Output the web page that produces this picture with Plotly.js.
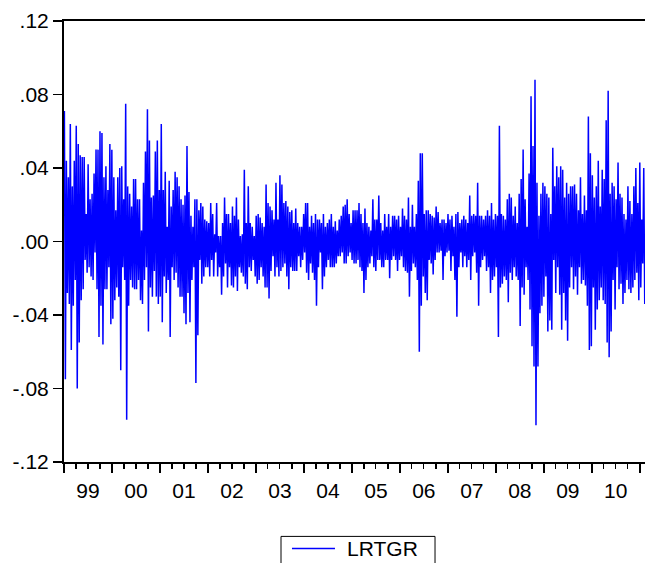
<!DOCTYPE html>
<html>
<head>
<meta charset="utf-8">
<script src="https://cdn.plot.ly/plotly-3.0.1.min.js"></script>
<style>html,body{margin:0;padding:0;background:#fff;}</style>
</head>
<body>
<div id="chart" style="width:645px;height:563px;"></div>
<script>
// LRTGR log returns (alternating local highs/lows, ~weekly spacing)
const seriesName = "LRTGR";
const startDate = "1999-01-04";
const endDate = "2011-02-08";

const lrtgr1999 = [.071,-.075,.044,-.028,.035,-.034,.064,-.059,.030,-.035,.044,-.021,.063,-.080,.053,-.055,.047,-.032,.046,-.026,.046,-.010,.015,-.017,.042,-.014,.023,-.019,.026,-.021,.037,-.006,.050,-.026,.050,-.052,.060,-.035,.059,-.056,.035,-.026,.041,-.026,.028,-.014,.053,-.045,.050,-.042,.035,-.032,.017,-.025,.035,-.030,.040,-.070,.041,-.014,.023,-.021,.075,-.097,.030,-.035,.026,-.021,.019,-.025,.034,-.026];
const lrtgr2000 = [.034,-.026,.023,-.021,.023,-.032,.006,-.034,.032,-.021,.049,-.014,.072,-.049,.055,-.025,.024,-.030,.025,-.016,.049,-.030,.055,-.034,.028,-.030,.064,-.044,.028,-.019,.038,-.028,.008,-.021,.033,-.052,.019,-.014,.028,-.021,.038,-.017,.035,-.025,.030,-.030,.023,-.030,.020,-.039,.025,-.045,.052,-.028,.027,-.044,.014,-.021,.008,-.014,.023,-.077,.023,-.051,.017,-.010,.021,-.023,.019,-.019,.012,-.014,.011,-.014];
const lrtgr2002 = [.010,-.019,.021,-.010,.015,-.019,.004,-.006,.021,-.019,.003,-.014,.003,-.029,.010,-.019,.024,-.012,.015,-.025,.015,-.014,.010,-.024,.019,-.025,.014,-.019,.024,-.027,.012,-.014,.003,-.017,.004,-.019,.039,-.023,.010,-.026,.030,-.014,.010,-.016,.008,-.010,.003,-.019,.014,-.023,.015,-.021,.013,-.014,.010,-.019,.008,-.025,.031,-.025,.021,-.031,.019,-.016,.017,-.008,.012,-.019,.032,-.014,.012,-.019,.036,-.016];
const lrtgr2004 = [.031,-.014,.021,-.012,.022,-.019,.019,-.026,.016,-.014,.017,-.016,.010,-.016,.018,-.016,.010,-.008,.008,-.014,.008,-.010,.015,-.006,.021,-.017,.021,-.021,.008,-.012,.014,-.017,.010,-.021,.015,-.035,.012,-.014,.012,-.006,.010,-.026,.015,-.019,.008,-.014,.010,-.010,.012,-.014,.015,-.014,.008,-.014,.011,-.012,.006,-.008,.012,-.008,.014,-.006,.019,-.012,.020,-.012,.023,-.008,.015,-.006,.010,-.010,.017,-.012];
const lrtgr2005 = [.017,-.012,.017,-.010,.021,-.014,.015,-.016,.010,-.028,.018,-.021,.010,-.014,.008,-.012,.006,-.008,.023,-.014,.012,-.016,.012,-.010,.025,-.010,.010,-.014,.006,-.014,.015,-.010,.008,-.010,.015,-.020,.008,-.010,.014,-.008,.014,-.010,.012,-.016,.014,-.010,.008,-.008,.018,-.014,.014,-.016,.012,-.017,.024,-.030,.008,-.016,.020,-.012,.008,-.014,.015,-.021,.033,-.060,.048,-.035,.048,-.019,.015,-.028,.017,-.032];
const lrtgr2006 = [.017,-.010,.015,-.012,.014,-.018,.013,-.010,.019,-.006,.016,-.006,.010,-.005,.012,-.021,.012,-.008,.010,-.006,.015,-.005,.012,-.016,.014,-.008,.008,-.021,.015,-.041,.016,-.014,.010,-.006,.012,-.014,.014,-.008,.012,-.014,.010,-.010,.025,-.021,.014,-.008,.015,-.006,.014,-.017,.032,-.035,.014,-.014,.014,-.010,.012,-.008,.014,-.016,.017,-.014,.014,-.028,.021,-.021,.012,-.019,.015,-.014,.014,-.052,.063,-.025];
const lrtgr2008 = [.015,-.023,.014,-.019,.012,-.021,.023,-.033,.026,-.017,.024,-.021,.014,-.014,.019,-.019,.010,-.021,.026,-.046,.034,-.025,.050,-.029,.023,-.014,.008,-.021,.037,-.037,.079,-.057,.052,-.068,.088,-.100,.032,-.068,.014,-.039,.026,-.035,.032,-.030,.030,-.019,.026,-.049,.024,-.043,.015,-.048,.051,-.010,.030,-.028,.041,-.014,.035,-.029,.041,-.048,.039,-.028,.024,-.043,.032,-.054,.026,-.025,.030,-.014,.030,-.026];
const lrtgr2010 = [.031,-.019,.026,-.029,.017,-.014,.035,-.023,.015,-.021,.025,-.024,.017,-.035,.068,-.059,.048,-.057,.036,-.025,.024,-.048,.030,-.037,.044,-.032,.019,-.025,.039,-.032,.034,-.034,.066,-.055,.082,-.063,.026,-.049,.032,-.021,.030,-.037,.023,-.014,.043,-.026,.026,-.023,.024,-.034,.015,-.028,.012,-.021,.030,-.026,.022,-.028,.015,-.025,.030,-.021,.040,-.017,.021,-.032,.043,-.025,.012,-.012,.040,-.034];

const yTickVals = [-0.12, -0.08, -0.04, 0, 0.04, 0.08, 0.12];
const yTickText = ["-.12", "-.08", "-.04", ".00", ".04", ".08", ".12"];

const values = [].concat(lrtgr1999, lrtgr2000, lrtgr2002, lrtgr2004, lrtgr2005, lrtgr2006, lrtgr2008, lrtgr2010);
const t0 = Date.parse(startDate + "T00:00:00Z");
const t1 = Date.parse(endDate + "T00:00:00Z");
const step = (t1 - t0) / (values.length - 1);
const dates = values.map((v, i) => new Date(t0 + i * step).toISOString().slice(0, 19).replace("T", " "));

const font = {family: "Liberation Sans, Arial, sans-serif", size: 21, color: "#000"};
const lineColor = "#0000FF";

const trace = {
  x: dates, y: values, type: "scatter", mode: "lines", name: seriesName,
  line: {color: lineColor, width: 1.5}, showlegend: false
};

// Legend box drawn in paper coordinates (box is cut by the bottom edge, as in the reference)
const legendShapes = [
  {type: "rect", xref: "paper", yref: "paper", x0: 0.3735, x1: 0.6386, y0: -0.1687, y1: -0.30,
   line: {color: "#000", width: 1}, fillcolor: "rgba(0,0,0,0)"},
  {type: "line", xref: "paper", yref: "paper", x0: 0.3924, x1: 0.4664, y0: -0.1959, y1: -0.1959,
   line: {color: lineColor, width: 1.5}}
];
const legendText = [
  {xref: "paper", yref: "paper", x: 0.4836, y: -0.1959, xanchor: "left", yanchor: "middle",
   text: seriesName, showarrow: false, font: font}
];

const layout = {
  width: 645, height: 563,
  margin: {l: 64, r: 0, t: 21, b: 101, pad: 0, autoexpand: false},
  paper_bgcolor: "#fff", plot_bgcolor: "#fff",
  font: font,
  showlegend: false,
  shapes: legendShapes,
  annotations: legendText,
  xaxis: {
    type: "date", range: ["1999-01-01", "2011-02-10"],
    tick0: "1999-01-01", dtick: "M12", tickformat: "%y", ticklabelmode: "period",
    ticks: "outside", ticklen: 9, tickwidth: 1.5, tickcolor: "#000",
    minor: {dtick: "M3", ticks: "outside", ticklen: 5, tickwidth: 1.5, tickcolor: "#000", showgrid: false},
    showline: true, linecolor: "#000", linewidth: 2, mirror: true,
    showgrid: false, zeroline: false, tickfont: font, ticklabelstandoff: 0
  },
  yaxis: {
    range: [-0.12, 0.12], tickvals: yTickVals, ticktext: yTickText,
    ticks: "outside", ticklen: 9, tickwidth: 1.5, tickcolor: "#000",
    showline: true, linecolor: "#000", linewidth: 2, mirror: false,
    showgrid: false, zeroline: false, tickfont: font
  }
};

Plotly.newPlot("chart", [trace], layout, {staticPlot: true, displayModeBar: false});
</script>
</body>
</html>
